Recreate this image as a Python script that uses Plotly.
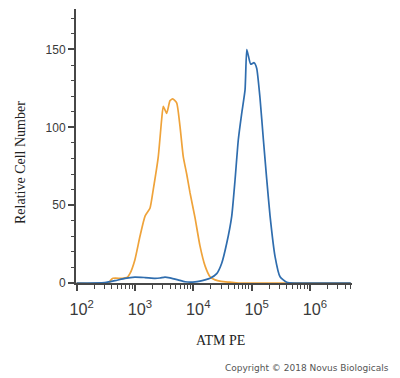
import plotly.graph_objects as go

# ATM PE intensity (linear units, log axis) and relative cell number
orange_x = [100, 360, 380, 420, 600, 730, 820, 1000, 1220, 1490, 1810, 2060, 2510, 2870,
            3060, 3500, 3980, 4430, 5190, 5920, 6740, 7710, 8780, 10700, 13000, 15900,
            19400, 23600, 30000, 42600, 60000, 5000000]
orange_y = [0, 0, 1.5, 3, 3, 3.5, 6, 15, 30, 43, 48, 60, 81, 105,
            113.5, 109, 117, 118.3, 115.7, 100.6, 81, 70, 58, 42, 24, 11,
            4, 2, 1, 0.5, 0, 0]

blue_x = [100, 305, 454, 673, 1000, 1486, 2203, 2683, 3270, 3981, 5470, 7210, 10700,
          13000, 15900, 19400, 25200, 30700, 37400, 45600, 51900, 59100, 67600, 77100,
          82400, 87800, 96500, 110000, 122000, 139000, 159000, 181000, 207000, 252000,
          307000, 400000, 555000, 5000000]
blue_y = [0, 0.3, 1.5, 3, 3.8, 3.5, 3, 3.2, 3.8, 3.3, 2, 0.8, 0.7,
          1.2, 2, 3, 6, 12.7, 25.5, 43, 66, 92, 109, 124,
          150, 146, 140.5, 141.5, 138, 119, 92, 67, 43, 17,
          4, 0.5, 0, 0]

y_ticks = [0, 50, 100, 150]
x_title = "ATM PE"
y_title = "Relative Cell Number"
credit = "Copyright © 2018 Novus Biologicals"

fig = go.Figure()
fig.add_trace(go.Scatter(x=orange_x, y=orange_y, mode="lines",
                         line=dict(color="#EFA33A", width=1.7, shape="spline", smoothing=0.5),
                         showlegend=False))
fig.add_trace(go.Scatter(x=blue_x, y=blue_y, mode="lines",
                         line=dict(color="#2F6DAE", width=1.7, shape="spline", smoothing=0.5),
                         showlegend=False))

axis_color = "#474747"
fig.update_layout(
    width=400, height=378,
    margin=dict(l=76, r=48, t=9, b=95),
    paper_bgcolor="white", plot_bgcolor="white",
    font=dict(family="Liberation Sans, Arial", size=12, color="#3a3a3a"),
    xaxis=dict(type="log", range=[1.99, 6.72], showgrid=False, zeroline=False,
               showline=True, linecolor=axis_color, linewidth=2,
               ticks="outside", ticklen=6, tickwidth=1.5, tickcolor=axis_color,
               dtick=1, exponentformat="power", ticklabelstandoff=5, ticklabelshift=5,
               minor=dict(ticks="outside", ticklen=4, tickwidth=1, tickcolor=axis_color,
                          dtick="D1", showgrid=False),
               tickfont=dict(size=13, color="#3a3a3a")),
    yaxis=dict(range=[0, 176], showgrid=False, zeroline=False,
               showline=True, linecolor=axis_color, linewidth=2,
               ticks="outside", ticklen=6, tickwidth=1.5, tickcolor=axis_color,
               tickvals=y_ticks,
               minor=dict(ticks="outside", ticklen=3, tickwidth=1, tickcolor=axis_color,
                          dtick=10, showgrid=False),
               tickfont=dict(size=12, color="#3a3a3a")),
    annotations=[
        dict(text=y_title, x=20, y=163, textangle=-90,
             showarrow=False, font=dict(family="Liberation Serif, Times New Roman", size=14,
                                        color="#222")),
        dict(text=x_title, x=220, y=340, showarrow=False,
             font=dict(family="Liberation Serif, Times New Roman", size=14, color="#222")),
        dict(text=credit, x=307, y=368, showarrow=False,
             font=dict(family="DejaVu Sans", size=9, color="#555")),
    ],
)

# convert pixel positions of annotations to paper coords
pl, pr, pt, pb = 76, 352, 9, 283
for a in fig.layout.annotations:
    px, py = a.x, a.y
    a.x = (px - pl) / (pr - pl)
    a.y = (pb - py) / (pb - pt)
    a.xref = "paper"
    a.yref = "paper"
    a.xanchor = "center"
    a.yanchor = "middle"

fig.write_html("out.html")
